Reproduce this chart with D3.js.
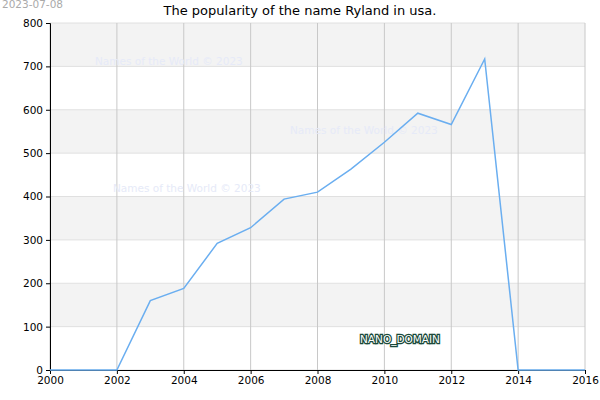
<!DOCTYPE html><html><head><meta charset="utf-8"><script src="https://cdn.jsdelivr.net/npm/d3@7"></script>
<style>body{margin:0}svg{font-family:"DejaVu Sans",sans-serif}</style></head><body><svg id="c" width="600" height="400"></svg><script>
const years=[2000,2001,2002,2003,2004,2005,2006,2007,2008,2009,2010,2011,2012,2013,2014,2015,2016];
const values=[0,0,0,160,188,292,328,394,410,463,525,592,566,717,0,0,0];
const yTicks=[0,100,200,300,400,500,600,700,800];
const xTicks=[2000,2002,2004,2006,2008,2010,2012,2014,2016];
const svg=d3.select("#c");
svg.append("rect").attr("width",600).attr("height",400).attr("fill","#fff");
const x=d3.scaleLinear().domain([2000,2016]).range([50,585]);
const y=d3.scaleLinear().domain([0,800]).range([370,23]);
for(let i=0;i<8;i++){svg.append("rect").attr("x",50).attr("width",535).attr("y",y(yTicks[i+1])).attr("height",y(yTicks[i])-y(yTicks[i+1])).attr("fill",i%2==1?"#f3f3f3":"#fff");}
yTicks.forEach(t=>svg.append("line").attr("x1",50).attr("x2",585).attr("y1",y(t)).attr("y2",y(t)).attr("stroke","#e0e0e0"));
xTicks.forEach(t=>svg.append("line").attr("x1",x(t)).attr("x2",x(t)).attr("y1",23).attr("y2",370).attr("stroke","#c8c8c8"));
svg.append("g").attr("transform","translate(0,370)").call(d3.axisBottom(x).tickValues(xTicks).tickFormat(d3.format("d")).tickSize(4)).call(g=>{g.select(".domain").attr("stroke","#000");g.selectAll("text").attr("font-size",10.5).attr("font-family","DejaVu Sans");});
svg.append("g").attr("transform","translate(50,0)").call(d3.axisLeft(y).tickValues(yTicks).tickSize(4)).call(g=>{g.selectAll("text").attr("font-size",10.5).attr("font-family","DejaVu Sans");});
[[95,65],[290,134],[113,192]].forEach(p=>svg.append("text").attr("x",p[0]).attr("y",p[1]).attr("font-size",10.5).attr("fill","#e6eaf8").text("Names of the World © 2023"));
svg.append("path").datum(values).attr("fill","none").attr("stroke","#6aaef0").attr("stroke-width",1.5)
 .attr("d",d3.line().x((d,i)=>x(years[i])).y(d=>y(d)));
svg.append("text").attr("x",300).attr("y",15).attr("text-anchor","middle").attr("font-size",13).text("The popularity of the name Ryland in usa.");
svg.append("text").attr("x",2).attr("y",8).attr("font-size",10.5).attr("fill","#aaa").text("2023-07-08");
svg.append("text").attr("x",400).attr("y",343).attr("text-anchor","middle").attr("font-size",10.5).attr("fill","#fff").attr("stroke","#1a4a3a").attr("stroke-width",2.5).attr("paint-order","stroke").text("NANO_DOMAIN");
</script></body></html>
